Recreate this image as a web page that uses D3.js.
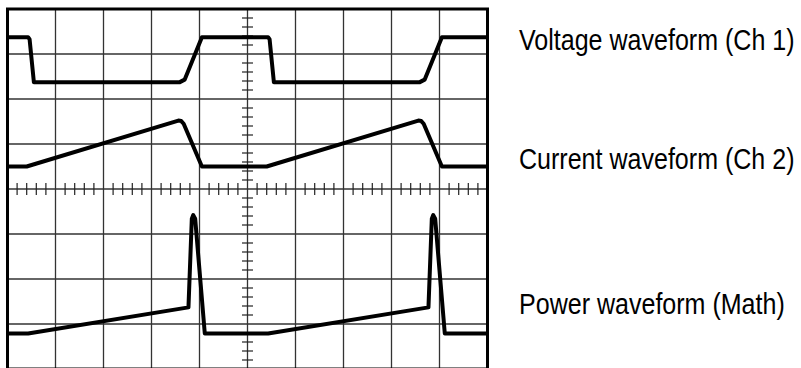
<!DOCTYPE html>
<html>
<head>
<meta charset="utf-8">
<script src="https://cdn.jsdelivr.net/npm/d3@7"></script>
<style>
    body { margin: 0; background: #fff; }
    svg { display: block; }
    .label { font-family: "Liberation Sans", Arial, sans-serif; font-size: 30px; fill: #000; }
</style>
</head>
<body>
<div class="scope-container"></div>
<script>
// Data: waveform points in screen divisions (x: 0..10, y: -4..4)
const voltageX = [0, 0.43, 0.46, 0.55, 3.58, 3.69, 4.05, 5.43, 5.46, 5.55, 8.58, 8.69, 9.05, 10];
const voltageY = [3.37, 3.37, 3.33, 2.37, 2.37, 2.43, 3.37, 3.37, 3.33, 2.37, 2.37, 2.43, 3.37, 3.37];

const currentX = [0, 0.40, 3.56, 3.62, 3.67, 4.05, 5.40, 8.56, 8.62, 8.67, 9.05, 10];
const currentY = [0.5, 0.5, 1.52, 1.51, 1.45, 0.5, 0.5, 1.52, 1.51, 1.45, 0.5, 0.5];

const powerX = [0, 0.43, 3.77, 3.84, 3.87, 3.91, 4.11, 5.43, 8.77, 8.84, 8.87, 8.91, 9.11, 10];
const powerY = [-3.21, -3.21, -2.63, -0.66, -0.58, -0.66, -3.21, -3.21, -2.63, -0.66, -0.58, -0.66, -3.21, -3.21];

const labels = ['Voltage waveform (Ch 1)', 'Current waveform (Ch 2)', 'Power waveform (Math)'];
const labelY = [3.1, 0.44, -2.77]; // baseline position in divisions

const makeScope = (cls) => {
    const width = 801;
    const height = 368;

    const svg = d3.select(`.${cls}`).append("svg")
        .attr("width", width)
        .attr("height", height);

    // scales: 10 x 8 division graticule
    const x = d3.scaleLinear().domain([0, 10]).range([7.5, 487.5]);
    const y = d3.scaleLinear().domain([-4, 4]).range([369, 9]);

    // grid lines
    const grid = svg.append("g").attr("stroke", "#333").attr("stroke-width", 1.3);
    grid.selectAll(".vgrid")
        .data(d3.range(1, 10))
        .enter().append("line")
        .attr("x1", d => x(d)).attr("x2", d => x(d))
        .attr("y1", y(4)).attr("y2", y(-4));
    grid.selectAll(".hgrid")
        .data(d3.range(-3, 4))
        .enter().append("line")
        .attr("x1", x(0)).attr("x2", x(10))
        .attr("y1", d => y(d)).attr("y2", d => y(d));

    // minor ticks on the centre lines
    const ticks = svg.append("g").attr("stroke", "#222").attr("stroke-width", 1.2);
    ticks.selectAll(".xtick")
        .data(d3.range(1, 50).filter(k => k % 5 !== 0))
        .enter().append("line")
        .attr("x1", k => x(k / 5)).attr("x2", k => x(k / 5))
        .attr("y1", y(0) - 6).attr("y2", y(0) + 6);
    ticks.selectAll(".ytick")
        .data(d3.range(-19, 20).filter(k => k % 5 !== 0))
        .enter().append("line")
        .attr("x1", x(5) - 5.5).attr("x2", x(5) + 5.5)
        .attr("y1", k => y(k / 5)).attr("y2", k => y(k / 5));

    // frame
    svg.append("rect")
        .attr("x", x(0)).attr("y", y(4))
        .attr("width", x(10) - x(0))
        .attr("height", y(-4) - y(4))
        .attr("fill", "none")
        .attr("stroke", "#000")
        .attr("stroke-width", 3);

    // waveforms
    const line = d3.line()
        .x(d => x(d[0]))
        .y(d => y(d[1]));

    const series = [
        d3.zip(voltageX, voltageY),
        d3.zip(currentX, currentY),
        d3.zip(powerX, powerY)
    ];

    svg.selectAll(".wave")
        .data(series)
        .enter().append("path")
        .attr("class", "wave")
        .attr("d", d => line(d))
        .attr("fill", "none")
        .attr("stroke", "#000")
        .attr("stroke-width", 4)
        .attr("stroke-linejoin", "round")
        .attr("stroke-linecap", "butt");

    // labels (narrow face, squeezed horizontally)
    svg.selectAll(".label")
        .data(labels)
        .enter().append("text")
        .attr("class", "label")
        .attr("transform", (d, i) => `translate(519,${y(labelY[i])}) scale(0.835,1)`)
        .text(d => d);
};

window.addEventListener("DOMContentLoaded", () => {
    makeScope("scope-container");
});
</script>
</body>
</html>
